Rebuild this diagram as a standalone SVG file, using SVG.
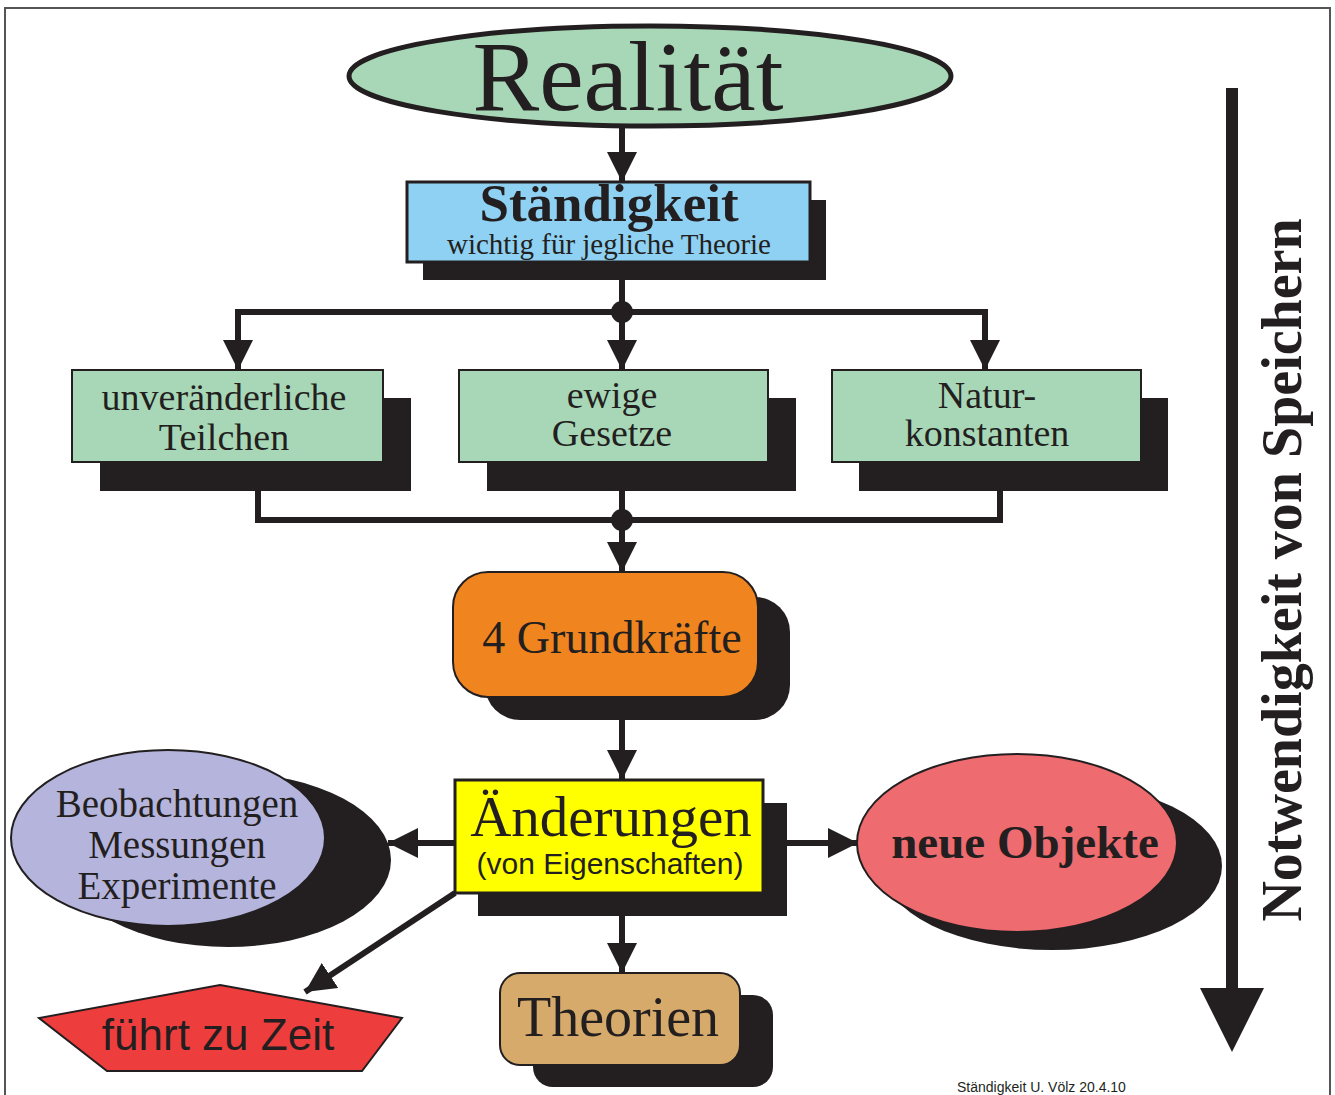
<svg xmlns="http://www.w3.org/2000/svg" width="1335" height="1095" viewBox="0 0 1335 1095">
<style>
.serif{font-family:"Liberation Serif","Times New Roman",serif;fill:#231f20}
.sans{font-family:"Liberation Sans",Arial,sans-serif;fill:#231f20}
.sh{fill:#231f20}
.ol{stroke:#231f20;stroke-width:3}
.ln{stroke:#231f20;stroke-width:6;fill:none}
.bx{font-size:38px}
</style>
<defs>
<marker id="ah" markerUnits="userSpaceOnUse" markerWidth="32" markerHeight="30" refX="30" refY="15" orient="auto" viewBox="0 0 32 30">
<path d="M0,0 L30,15 L0,30 Z" fill="#231f20"/>
</marker>
</defs>
<rect x="5" y="8" width="1325" height="1110" fill="#fff" stroke="#555" stroke-width="2"/>

<g id="connectors">
<line class="ln" x1="622" y1="128" x2="622" y2="182" marker-end="url(#ah)"/>
<line class="ln" x1="622" y1="262" x2="622" y2="312"/>
<polyline class="ln" points="238,370 238,312 985,312 985,370"/>
<line class="ln" x1="238" y1="340" x2="238" y2="370" marker-end="url(#ah)"/>
<line class="ln" x1="622" y1="312" x2="622" y2="370" marker-end="url(#ah)"/>
<line class="ln" x1="985" y1="340" x2="985" y2="370" marker-end="url(#ah)"/>
<circle cx="622" cy="312" r="11" fill="#231f20"/>
<polyline class="ln" points="258,491 258,520 1000,520 1000,491"/>
<line class="ln" x1="622" y1="491" x2="622" y2="572" marker-end="url(#ah)"/>
<circle cx="622" cy="520" r="11" fill="#231f20"/>
<line class="ln" x1="622" y1="720" x2="622" y2="780" marker-end="url(#ah)"/>
<line class="ln" x1="622" y1="916" x2="622" y2="973" marker-end="url(#ah)"/>
<line class="ln" x1="455" y1="843" x2="388" y2="843" marker-end="url(#ah)"/>
<line class="ln" x1="787" y1="843" x2="858" y2="843" marker-end="url(#ah)"/>
<line class="ln" x1="455" y1="893" x2="305" y2="992" marker-end="url(#ah)"/>
</g>

<g id="realitaet">
<ellipse cx="650" cy="76" rx="301" ry="50" fill="#a8d7b7" stroke="#231f20" stroke-width="5"/>
<text class="serif" x="628" y="110" font-size="100" text-anchor="middle">Realität</text>
</g>

<g id="staendigkeit">
<rect class="sh" x="423" y="200" width="403" height="80"/>
<rect class="ol" x="407" y="182" width="403" height="80" fill="#8fd1f3"/>
<text class="serif" x="609" y="221" font-size="53" font-weight="bold" text-anchor="middle">Ständigkeit</text>
<text class="serif" x="609" y="254" font-size="29" text-anchor="middle">wichtig für jegliche Theorie</text>
</g>

<g id="teilchen">
<rect class="sh" x="100" y="398" width="311" height="93"/>
<rect x="72" y="370" width="311" height="92" fill="#a8d7b7" stroke="#231f20" stroke-width="2"/>
<text class="serif bx" x="224" y="410" text-anchor="middle">unveränderliche</text>
<text class="serif bx" x="224" y="450" text-anchor="middle">Teilchen</text>
</g>

<g id="gesetze">
<rect class="sh" x="487" y="398" width="309" height="93"/>
<rect x="459" y="370" width="309" height="92" fill="#a8d7b7" stroke="#231f20" stroke-width="2"/>
<text class="serif bx" x="612" y="408" text-anchor="middle">ewige</text>
<text class="serif bx" x="612" y="446" text-anchor="middle">Gesetze</text>
</g>

<g id="naturkonstanten">
<rect class="sh" x="859" y="398" width="309" height="93"/>
<rect x="832" y="370" width="309" height="92" fill="#a8d7b7" stroke="#231f20" stroke-width="2"/>
<text class="serif bx" x="987" y="408" text-anchor="middle">Natur-</text>
<text class="serif bx" x="987" y="446" text-anchor="middle">konstanten</text>
</g>

<g id="grundkraefte">
<rect class="sh" x="485" y="597" width="305" height="123" rx="35"/>
<rect x="453" y="572" width="305" height="125" rx="35" fill="#f0841e" stroke="#231f20" stroke-width="2"/>
<text class="serif" x="612" y="653" font-size="46" text-anchor="middle">4 Grundkräfte</text>
</g>

<g id="aenderungen">
<rect class="sh" x="478" y="803" width="309" height="113"/>
<rect class="ol" x="455" y="780" width="308" height="113" fill="#ffff00"/>
<text class="serif" x="611" y="836" font-size="57" text-anchor="middle">Änderungen</text>
<text class="sans" x="610" y="874" font-size="30" text-anchor="middle">(von Eigenschaften)</text>
</g>

<g id="beobachtungen">
<ellipse class="sh" cx="228" cy="860" rx="163" ry="87"/>
<ellipse cx="168" cy="838" rx="157" ry="88" fill="#b4b4dc" stroke="#231f20" stroke-width="2"/>
<text class="serif" x="177" y="817" font-size="39" text-anchor="middle">Beobachtungen</text>
<text class="serif" x="177" y="858" font-size="39" text-anchor="middle">Messungen</text>
<text class="serif" x="177" y="899" font-size="39" text-anchor="middle">Experimente</text>
</g>

<g id="neue-objekte">
<ellipse class="sh" cx="1052" cy="866" rx="170" ry="84"/>
<ellipse cx="1017" cy="843" rx="160" ry="89" fill="#ee6b6f" stroke="#231f20" stroke-width="2"/>
<text class="serif" x="1025" y="858" font-size="47" font-weight="bold" text-anchor="middle">neue Objekte</text>
</g>

<g id="theorien">
<rect class="sh" x="533" y="995" width="240" height="92" rx="20"/>
<rect x="500" y="973" width="240" height="92" rx="20" fill="#d6aa6b" stroke="#231f20" stroke-width="2"/>
<text class="serif" x="618" y="1036" font-size="56" text-anchor="middle">Theorien</text>
</g>

<g id="zeit">
<polygon points="220,985 402,1018 362,1071 107,1071 39,1018" fill="#ee3d3d" stroke="#231f20" stroke-width="2"/>
<text class="sans" x="218" y="1050" font-size="44" text-anchor="middle">führt zu Zeit</text>
</g>

<g id="speichern">
<line x1="1232" y1="88" x2="1232" y2="992" stroke="#231f20" stroke-width="12"/>
<polygon points="1200,988 1264,988 1232,1052" fill="#231f20"/>
<text class="serif" transform="translate(1301,570) rotate(-90)" font-size="56" font-weight="bold" text-anchor="middle">Notwendigkeit von Speichern</text>
</g>

<text class="sans" x="957" y="1092" font-size="14">Ständigkeit U. Völz 20.4.10</text>
</svg>
